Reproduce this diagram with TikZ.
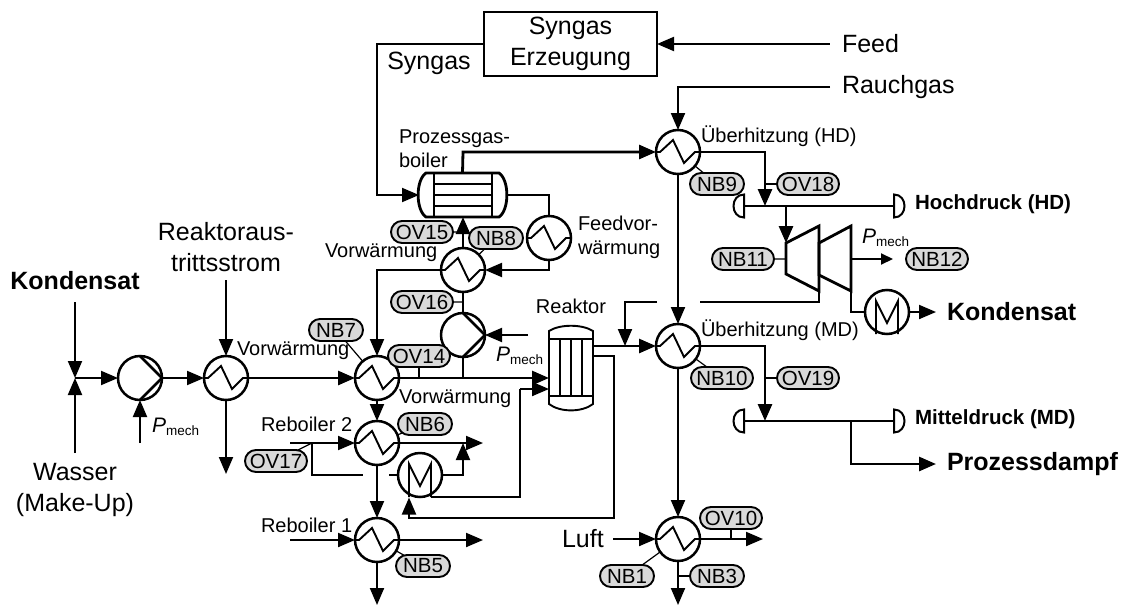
\documentclass[tikz,border=0pt]{standalone}
\usepackage{fontspec}
\setmainfont{Liberation Sans}
\usetikzlibrary{arrows.meta,shapes.misc}
\definecolor{pillgray}{RGB}{217,217,217}
\newcommand{\Pmech}{{\fontsize{21}{24}\selectfont\itshape P}\raisebox{-3.5pt}{\fontsize{13.5}{16}\selectfont mech}}
\tikzset{
  thinl/.style={line width=2pt},
  thickl/.style={line width=2.8pt},
  symline/.style={line width=1.9pt,line join=miter},
  hxc/.style={circle,draw,line width=2.5pt,minimum size=44pt,inner sep=0pt,outer sep=0pt},
  pill/.style={rounded rectangle,draw,fill=pillgray,line width=1.9pt,minimum height=22pt,inner sep=0pt,outer sep=0pt,font=\fontsize{20.5}{24}\selectfont},
  pillb/.style={pill,minimum width=54pt},
  pilla/.style={pill,minimum width=62pt},
  tickl/.style={line width=1.2pt},
  lab/.style={inner sep=0pt,outer sep=0pt,font=\fontsize{20}{24}\selectfont},
  labbig/.style={inner sep=0pt,outer sep=0pt,font=\fontsize{25}{31}\selectfont},
  labbold/.style={inner sep=0pt,outer sep=0pt,font=\fontsize{25}{31}\selectfont\bfseries},
  labhead/.style={inner sep=0pt,outer sep=0pt,font=\fontsize{20.5}{24}\selectfont\bfseries},
  anch/.style={inner sep=0pt,outer sep=0pt,rectangle},
  >={Triangle[length=17pt,width=14pt]}
}
\newcommand{\hxzig}[1]{\draw[symline,shift={(#1.center)}] (-22,0)--(-18,0)--(-5,-12)--(6,11)--(17,0)--(22,0);}
\newcommand{\pumpsym}[1]{\draw[thickl,shift={(#1.center)}] (0,-22)--(22,0)--(0,22);}
\newcommand{\msym}[1]{\draw[symline,shift={(#1.center)}] (-11,22)--(-11,-11)--(0,11)--(11,-11)--(11,22);}
\begin{document}
\begin{tikzpicture}[x=1pt,y=-1pt]
\useasboundingbox (0,0) rectangle (1126,605);
% equipment
\node[hxc] (hxa) at (226,378) {};
\node[hxc] (pa) at (140,378) {};
\node[hxc] (hxb) at (377,378) {};
\node[hxc] (pb) at (463,335) {};
\node[hxc] (hxc1) at (463,270) {};
\node[hxc] (hxf) at (549,238) {};
\node[hxc] (hxhd) at (678,152) {};
\node[hxc] (hxmd) at (678,346) {};
\node[hxc] (hxl) at (678,539) {};
\node[hxc] (rb2) at (377,443) {};
\node[hxc] (rb1) at (377,540) {};
\node[hxc] (ma) at (420,475) {};
\node[hxc] (mb) at (887,312) {};
\foreach \n in {hxa,hxb,hxc1,hxf,hxhd,hxmd,hxl,rb2,rb1}{\hxzig{\n}}
\pumpsym{pa}\pumpsym{pb}
\msym{ma}\msym{mb}
% boiler
\node[anch,minimum width=87pt,minimum height=44pt] (boil) at (462.5,195) {};
\draw[thickl] (426,173) .. controls (415.5,180) and (415.5,210) .. (426,217) -- (499,217) .. controls (509.5,210) and (509.5,180) .. (499,173) -- cycle;
\draw[thickl] (434,173)--(434,217) (492,173)--(492,217);
\draw[symline] (434,184)--(492,184) (434,195)--(492,195) (434,206)--(492,206);
% reactor
\node[anch,minimum width=44pt,minimum height=86pt] (reak) at (571,368) {};
\draw[symline] (549,331) .. controls (560,324) and (582,324) .. (593,331) -- (593,404) .. controls (582,412.5) and (560,412.5) .. (549,404) -- cycle;
\draw[symline] (549,339)--(593,339) (549,396)--(593,396) (560,339)--(560,396) (571,339)--(571,396) (582,339)--(582,396);
% turbine
\coordinate (ta) at (786,243); \coordinate (tl) at (786,259); \coordinate (tb) at (819,291); \coordinate (tc) at (851,291); \coordinate (tr) at (851,259);
\draw[thickl,line join=miter] (786,243)--(819,226)--(819,291)--(786,274)--cycle;
\draw[thickl,line join=miter] (819,243)--(851,226)--(851,291)--(819,275)--cycle;
% headers
\coordinate (hdl) at (744,206); \coordinate (hdr) at (894,206); \coordinate (mdl) at (744,421); \coordinate (mdr) at (894,421);
\foreach \c/\s in {hdl/-1,hdr/1,mdl/-1,mdr/1}{
  \draw[thinl,shift={(\c)}] (0,-11.5) .. controls (\s*14,-11.5) and (\s*14,11.5) .. (0,11.5) -- cycle;
}
\draw[thickl] (hdl)--(hdr);
\draw[thickl] (mdl)--(mdr);
% box
\node[draw,thinl,minimum width=173pt,minimum height=64pt,inner sep=0pt,outer sep=0pt,align=center,labbig] (syn) at (570.5,44) {Syngas\\Erzeugung};
% free ends
\coordinate (feedE) at (830,44);
\coordinate (rauchE) at (830,87);
\coordinate (konE) at (75,302);
\coordinate (wasE) at (75,453);
\coordinate (jn) at (75,378);
\coordinate (ptop) at (226,280);
\coordinate (aout) at (226,474);
\coordinate (pmA) at (140,443);
\coordinate (pmB) at (528,335);
\coordinate (r2in) at (290,443);
\coordinate (r1in) at (290,540);
\coordinate (r2out) at (483,443);
\coordinate (r1out) at (483,540);
\coordinate (r1bot) at (377,605);
\coordinate (lbot) at (678,605);
\coordinate (lin) at (613,539);
\coordinate (lout) at (763,539);
\coordinate (prozE) at (936,464);
\coordinate (konOut) at (936,312);
\coordinate (pmOut) at (893,259);
\coordinate (rin2) at (549,389);
\coordinate (rin1) at (549,378);
\coordinate (rout1) at (593,346);
\coordinate (rout2) at (593,356);
% connectors
\draw[thinl,<-] (syn.east)--(feedE);
\draw[thinl,->] (syn.west)--(377,44)--(377,195)--(boil.west);
\draw[thinl,->] (rauchE)--(678,87)--(hxhd.north);
\draw[thickl,->] (boil.north)--(463,152)--(hxhd.west);
\draw[thinl] (boil.east)--(549,195)--(hxf.north);
\draw[thinl,->] (hxf.south)--(549,270)--(hxc1.east);
\draw[thinl,->] (hxc1.west)--(377,270)--(hxb.north);
\draw[thickl,->] (hxc1.north)--(463,217);
\draw[thinl] (hxc1.south)--(pb.north);
\draw[thinl] (pb.south)--(463,378);
\draw[thinl,->] (pmB)--(pb.east);
\draw[thickl,->] (hxb.east)--(rin1);
\draw[thinl,->] (konE)--(jn);
\draw[thinl,->] (wasE)--(jn);
\draw[thinl,->] (jn)--(pa.west);
\draw[thinl,->] (pa.east)--(hxa.west);
\draw[thickl,->] (hxa.east)--(hxb.west);
\draw[thinl,->] (ptop)--(hxa.north);
\draw[thinl,->] (hxa.south)--(aout);
\draw[thinl,->] (pmA)--(pa.south);
\draw[thinl,->] (hxb.south)--(rb2.north);
\draw[thinl,->] (rb2.south)--(rb1.north);
\draw[thinl,->] (rb1.south)--(r1bot);
\draw[thinl,->] (r2in)--(rb2.west);
\draw[thinl,->] (r1in)--(rb1.west);
\draw[thinl,->] (rb2.east)--(r2out);
\draw[thinl,->] (rb1.east)--(r1out);
\draw[thinl] (312,443)--(312,475)--(363,475);
\draw[thinl] (389,475)--(ma.west);
\draw[thinl,->] (ma.east)--(463,475)--(463,443);
\draw[thinl] (431,497)--(520,497)--(520,389);
\draw[thinl,->] (520,389)--(rin2);
\draw[thinl,->] (rout2)--(614,356)--(614,518)--(409,518)--(409,497.5);
\draw[thickl,->] (rout1)--(hxmd.west);
\draw[thinl,->] (657,302)--(625,302)--(625,346);
\draw[thinl] (700,302)--(819,302)--(tb);
\draw[thinl,->] (hxhd.south)--(hxmd.north);
\draw[thinl,->] (hxmd.south)--(hxl.north);
\draw[thinl,->] (hxl.south)--(lbot);
\draw[thinl,->] (lin)--(hxl.west);
\draw[thinl,->] (hxl.east)--(lout);
\draw[thickl,->] (hxhd.east)--(765,152)--(765,206);
\draw[thickl,->] (hxmd.east)--(765,346)--(765,421);
\draw[thickl,->] (786,206)--(ta);
\draw[thickl] (tc)--(851,312)--(mb.west);
\draw[thinl,->] (mb.east)--(konOut);
\draw[thickl,->] (851,421)--(851,464)--(prozE);
\draw[thinl,-{Triangle[length=12pt,width=11pt]}] (tr)--(pmOut);
% pills
\node[pillb] (nb9) at (717,184) {NB9};
\node[pilla] (ov18) at (808,184) {OV18};
\node[pilla] (nb11) at (743,259) {NB11};
\node[pilla] (nb12) at (937,259) {NB12};
\node[pilla] (nb10) at (722,378) {NB10};
\node[pilla] (ov19) at (808,378) {OV19};
\node[pilla] (ov10) at (731,518) {OV10};
\node[pillb] (nb3) at (717,576) {NB3};
\node[pillb] (nb1) at (627,576) {NB1};
\node[pilla] (ov15) at (422,232) {OV15};
\node[pillb] (nb8) at (496,238) {NB8};
\node[pilla] (ov16) at (422,302) {OV16};
\node[pillb] (nb7) at (336,330) {NB7};
\node[pilla] (ov14) at (419,356) {OV14};
\node[pillb] (nb6) at (425,424) {NB6};
\node[pilla] (ov17) at (276,461) {OV17};
\node[pillb] (nb5) at (423,566) {NB5};
\coordinate (tov18) at (765,184); \coordinate (tov19) at (765,378);
\coordinate (tov10) at (731,539); \coordinate (tnb3) at (678,576);
\coordinate (tov15) at (463,232); \coordinate (tov16) at (463,302);
\coordinate (tov14) at (419,378); \coordinate (tov17) at (312,443);
\draw[tickl] (nb9)--(hxhd);
\draw[tickl] (ov18)--(tov18);
\draw[tickl] (nb11)--(tl);
\draw[tickl] (nb10)--(hxmd);
\draw[tickl] (ov19)--(tov19);
\draw[tickl] (ov10)--(tov10);
\draw[tickl] (nb3)--(tnb3);
\draw[tickl] (nb1)--(hxl);
\draw[tickl] (ov15)--(tov15);
\draw[tickl] (nb8)--(hxc1);
\draw[tickl] (ov16)--(tov16);
\draw[tickl] (nb7)--(hxb);
\draw[tickl] (ov14)--(tov14);
\draw[tickl] (nb6)--(rb2);
\draw[tickl] (ov17)--(tov17);
\draw[tickl] (nb5)--(rb1);
% labels
\node[labbig,anchor=center] (l1) at (429,63) {Syngas};
\node[labbig,anchor=west] (l2) at (842,44) {Feed};
\node[labbig,anchor=west] (l3) at (842,87) {Rauchgas};
\node[labbig,anchor=west] (l4) at (562,539) {Luft};
\node[labbig,align=center] (l5) at (226,247) {Reaktoraus-\\trittsstrom};
\node[labbig,align=center] (l6) at (75,490) {Wasser\\(Make-Up)};
\node[labbold] (l7) at (75,281) {Kondensat};
\node[labbold,anchor=west] (l8) at (947,312) {Kondensat};
\node[labbold,anchor=west] (l9) at (947,464) {Prozessdampf};
\node[labhead,anchor=west] (l10) at (915,204) {Hochdruck (HD)};
\node[labhead,anchor=west] (l11) at (915,419) {Mitteldruck (MD)};
\node[lab,align=left,anchor=west] (l12) at (399,149) {Prozessgas-\\boiler};
\node[lab,align=left,anchor=west] (l13) at (578,237) {Feedvor-\\wärmung};
\node[lab,anchor=west] (l14) at (325,253) {Vorwärmung};
\node[lab,anchor=west] (l15) at (237,351) {Vorwärmung};
\node[lab,anchor=west] (l16) at (399,399) {Vorwärmung};
\node[lab] (l17) at (571,306) {Reaktor};
\node[lab,anchor=west] (l18) at (261,424) {Reboiler 2};
\node[lab,anchor=west] (l19) at (261,525) {Reboiler 1};
\node[lab,anchor=west] (l20) at (701,136) {Überhitzung (HD)};
\node[lab,anchor=west] (l21) at (701,330) {Überhitzung (MD)};
\node[lab,anchor=west] (l22) at (152,427) {\Pmech};
\node[lab,anchor=west] (l23) at (496,356) {\Pmech};
\node[lab,anchor=west] (l24) at (862,238) {\Pmech};
\end{tikzpicture}
\end{document}
